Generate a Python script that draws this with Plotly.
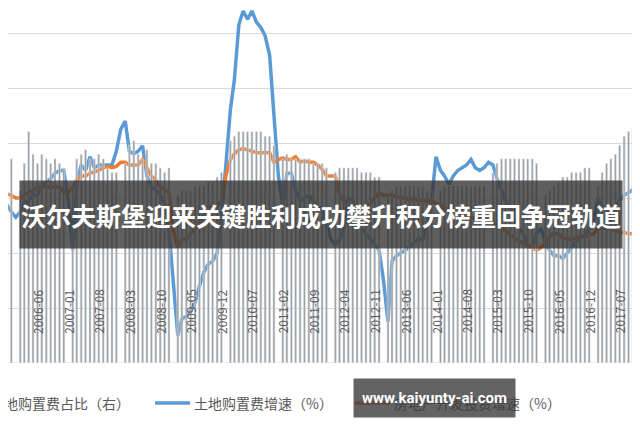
import pandas as pd
import plotly.graph_objects as go

months = pd.date_range("2005-10-01", periods=146, freq="MS")

land_growth = [19,17.5,15,
13,15,18,19,21,21,24,26,27,29,30,30,
19,1,25,32,30,35,31,32,32,32,32,37,
45,48,37,36,37,39,28,24,23,21,18,8,
-13,-30,-24,-23,-21,-18,-12,-7,-4,-3,0,14,
32,52,63,83,88,85,88,84,82,79,72,50,
28,17,29,29,23,19,20,21,19,17,16,10,
5,3,5,9,20,19,14,9,7,5,3,1,
-10,-25,-3,-1,0,1,2,4,5,5,10,19,
35,30,28,25,28,30,31,32,34,31,30,31,
33,32,27,23,19,16,12,9,7,3,2,7,
9,4,1,-1,-1,-2,0,2,4,6,6,9,
12,20,17,16,15,17,19,21,22,23,24]

invest_growth = [22,21.5,21,
20,20,21,22,22.5,24,24,24,24,24,24,22,
22,24,26.5,28,28,29,29.5,30,31,31.5,31,31.5,
33,33,32,32,32,34,31,28,26.5,24,23,22,
8,2,5,5,7,9,11,14,17,17,17,19,
28,34,36,37.5,38,37.5,37,36.5,36.5,36.5,36.5,33,
34,34.5,34,34,35,33,33.5,33,33,32,30.5,28,
28,28,21,19,18,17,17,16,17.5,18,20,22,
21,21,21,20.5,20,20,19,20,19,19,19,19,
18,17.5,16,16,15.5,14.5,14,13,13,12.5,12.5,12,
12,11,10,9,8,6.5,5.5,4.5,3.5,2.5,2,1,
2,3.5,6,7,7,5.5,5,5,5.5,6,6,6.5,
7,9,9,9,9,8,7.5,7.5,7,7,7]

land_share = [21.5,21,22.5,
None,19,22,25.5,23,22,23,22.5,22,22.5,22,21.5,
None,19.5,22.5,23,23.5,22.5,22.5,23,22.5,21.5,21,21,
None,22,24,24.5,23,22.5,23.5,22,22,21.5,21,21.5,
None,18.5,19,19,19,19.5,19.5,19.5,20,20,20.5,21,
None,24.5,25,25.5,25.5,25.5,25.5,25.5,25.5,25,25,24,
None,22.5,23,22.5,22.5,22.5,22.5,22.5,22,22,22,21.5,
None,21,21.5,21.5,21.5,21.5,21.5,21,21,21,20.5,20.5,
None,18.5,19,19.5,19.5,19.5,19.5,19.5,19.5,19.5,19,19,
None,19,19.5,19.5,19.5,19.5,19.5,19.5,19.5,19.5,19.5,19.5,
None,21,22,22.5,22.5,22.5,22.5,22.5,22.5,22.5,22.5,22,
None,18.5,19,19.5,20,20.5,20.5,21,21,21,21.5,21.5,
None,19.5,21,22,22.5,23,24,25,25.5,26,26.5]

tick_months = months[1::7]
tick_labels = [d.strftime("%Y-%m") for d in tick_months]

title_text = "沃尔夫斯堡迎来关键胜利成功攀升积分榜重回争冠轨道"
watermark = "www.kaiyunty-ai.com"
legend_names = ["土地购置费占比（右）", "土地购置费增速（%）", "房地产开发投资增速（%）"]

OFF = 8  # page body margin
PLOT_H = 355
def px(x): return (x - OFF) / 640
def py(y): return (PLOT_H - (y - OFF)) / PLOT_H

fig = go.Figure()
fig.add_trace(go.Bar(x=months, y=land_share, yaxis="y2", marker_color="#9d9d9d",
                     width=14*24*3600*1000, name=legend_names[0]))
fig.add_trace(go.Scatter(x=months, y=land_growth, mode="lines",
                         line=dict(color="#5b9bd5", width=3.5), name=legend_names[1]))
fig.add_trace(go.Scatter(x=months, y=invest_growth, mode="lines",
                         line=dict(color="#ed7d31", width=3.5), name=legend_names[2]))

font = "Noto Sans CJK SC"
fig.update_layout(
    width=640, height=426, margin=dict(l=0, r=0, t=0, b=426-PLOT_H),
    paper_bgcolor="white", plot_bgcolor="white", showlegend=False,
    xaxis=dict(range=["2005-11-08", "2018-01-14"], showticklabels=False, showgrid=False,
               showline=False, zeroline=False, ticks=""),
    yaxis=dict(range=[-40, 89.1], dtick=20, tick0=0, showticklabels=False,
               gridcolor="#d9d9d9", gridwidth=1, zeroline=False),
    yaxis2=dict(range=[0, 39.12], overlaying="y", side="right", showticklabels=False,
                showgrid=False, zeroline=False),
)
fig.add_shape(type="line", xref="paper", yref="y", x0=0, x1=1, y0=-40, y1=-40,
              line=dict(color="#d9d9d9", width=1))
for d, lab in zip(tick_months, tick_labels):
    fig.add_annotation(x=d, y=-30, xref="x", yref="y", text=lab, textangle=-90,
                       showarrow=False, yanchor="bottom", xanchor="center",
                       font=dict(family=font, size=12, color="#595959"))

ly = py(403)
fig.add_annotation(x=px(132), y=ly, xref="paper", yref="paper", xanchor="right", yanchor="middle",
                   text=legend_names[0], showarrow=False,
                   font=dict(family=font, size=14, color="#595959"))
fig.add_shape(type="line", xref="paper", yref="paper", x0=px(155), x1=px(190), y0=ly, y1=ly,
              line=dict(color="#5b9bd5", width=3.5))
fig.add_annotation(x=px(192), y=ly, xref="paper", yref="paper", xanchor="left", yanchor="middle",
                   text=legend_names[1], showarrow=False,
                   font=dict(family=font, size=14, color="#595959"))
fig.add_shape(type="line", xref="paper", yref="paper", x0=px(355), x1=px(390), y0=ly, y1=ly,
              line=dict(color="#ed7d31", width=3.5))
fig.add_annotation(x=px(392), y=ly, xref="paper", yref="paper", xanchor="left", yanchor="middle",
                   text=legend_names[2], showarrow=False,
                   font=dict(family=font, size=14, color="#595959"))

# banner
fig.add_annotation(x=px(321), y=py(214), xref="paper", yref="paper", xanchor="center", yanchor="middle",
                   text="<b>"+title_text+"</b>", showarrow=False,
                   width=602, height=67, bgcolor="rgba(50,50,50,0.78)", borderpad=0,
                   font=dict(family=font, size=25, color="white"))
# watermark
fig.add_annotation(x=px(434.5), y=py(398), xref="paper", yref="paper", xanchor="center", yanchor="middle",
                   text="<b>"+watermark+"</b>", showarrow=False,
                   width=161, height=38, bgcolor="rgba(60,60,60,0.8)", borderpad=0,
                   font=dict(family="Roboto", size=15, color="white"))

fig.write_html("out.html")
